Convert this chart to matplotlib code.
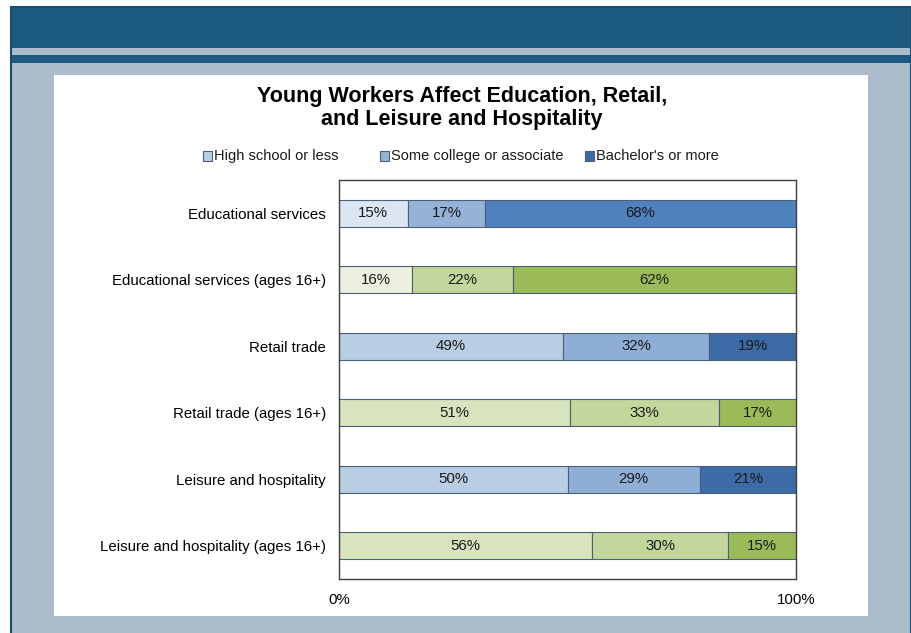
import numpy as np
import matplotlib
matplotlib.use("Agg")
import matplotlib.pyplot as plt
from matplotlib.patches import Rectangle

plt.rcParams['font.family'] = ['Liberation Sans', 'DejaVu Sans']

categories = [
    "Educational services",
    "Educational services (ages 16+)",
    "Retail trade",
    "Retail trade (ages 16+)",
    "Leisure and hospitality",
    "Leisure and hospitality (ages 16+)",
]
series_names = ["High school or less", "Some college or associate", "Bachelor's or more"]
high_school = [15, 16, 49, 51, 50, 56]
some_college = [17, 22, 32, 33, 29, 30]
bachelors = [68, 62, 19, 17, 21, 15]
x_tick_labels = ["0%", "100%"]

# colour per row and segment: young-worker rows in blue, all-ages rows in green
row_colors = [
    ["#dce6f2", "#95b3d7", "#4f81bd"],
    ["#ebf1de", "#c3d69b", "#9bbb59"],
    ["#b9cde5", "#8eaed6", "#3d6ba5"],
    ["#d7e4bd", "#c3d69b", "#9bbb59"],
    ["#b9cde5", "#8eaed6", "#3d6ba5"],
    ["#d7e4bd", "#c3d69b", "#9bbb59"],
]
legend_colors = ["#b9cde5", "#95b3d7", "#3d6ba5"]
edge = "#4a5f78"

W, H = 912, 633
fig = plt.figure(figsize=(W / 100, H / 100), dpi=100)
fig.patch.set_facecolor("white")

def px_rect(x0, y0, x1, y1, zorder=-5, **kw):
    # rectangle given in pixel coords measured from the top-left corner
    fig.patches.append(Rectangle((x0 / W, 1 - y1 / H), (x1 - x0) / W, (y1 - y0) / H,
                                 transform=fig.transFigure, figure=fig, zorder=zorder, **kw))

# page frame
px_rect(11, 7, 911, 640, facecolor="#adbccd", edgecolor="#1a4a6e", linewidth=1.5)
px_rect(12, 8, 910, 48, facecolor="#1d5a80", edgecolor="none")
px_rect(12, 55, 910, 63, facecolor="#1d5a80", edgecolor="none")
px_rect(54, 75, 868, 616, facecolor="white", edgecolor="none")

ax = fig.add_axes([339 / W, 1 - 579 / H, (796 - 339) / W, (579 - 180) / H])
ax.set_facecolor("white")

values = np.array([high_school, some_college, bachelors], dtype=float).T
# 100% stacked: each row scaled to its own total
shares = values / values.sum(axis=1, keepdims=True) * 100
y = np.arange(len(categories))

for i in range(len(categories)):
    left = 0
    for j in range(3):
        ax.barh(y[i], shares[i, j], left=left, height=0.4,
                color=row_colors[i][j], edgecolor=edge, linewidth=0.8)
        ax.text(left + shares[i, j] / 2, y[i], f"{int(values[i, j])}%",
                ha="center", va="center", fontsize=10.8, color="#1a1a1a")
        left += shares[i, j]

ax.set_xlim(0, 100)
ax.set_ylim(len(categories) - 0.5, -0.5)
ax.set_yticks(y)
ax.set_yticklabels(categories, fontsize=10.8)
ax.set_xticks([0, 100])
ax.set_xticklabels(x_tick_labels, fontsize=10.8)
ax.tick_params(axis="both", length=0)
ax.tick_params(axis="y", pad=9.5)
ax.tick_params(axis="x", pad=10)
for s in ax.spines.values():
    s.set_color("#404040")
    s.set_linewidth(1.0)

fig.text(462 / W, 1 - 108 / H,
         "Young Workers Affect Education, Retail,\nand Leisure and Hospitality",
         ha="center", va="center", fontsize=15.5, fontweight="bold",
         linespacing=1.1)

# legend entries: small square swatch followed by the series name
legend_x = [203, 380, 585]
legend_y = 156
for name, c, lx in zip(series_names, legend_colors, legend_x):
    px_rect(lx, legend_y - 4.5, lx + 9, legend_y + 4.5, zorder=2,
            facecolor=c, edgecolor=edge, linewidth=0.8)
    fig.text((lx + 11) / W, 1 - legend_y / H, name, ha="left", va="center",
             fontsize=10.5, color="#1a1a1a")

fig.savefig("out.png", dpi=100)
